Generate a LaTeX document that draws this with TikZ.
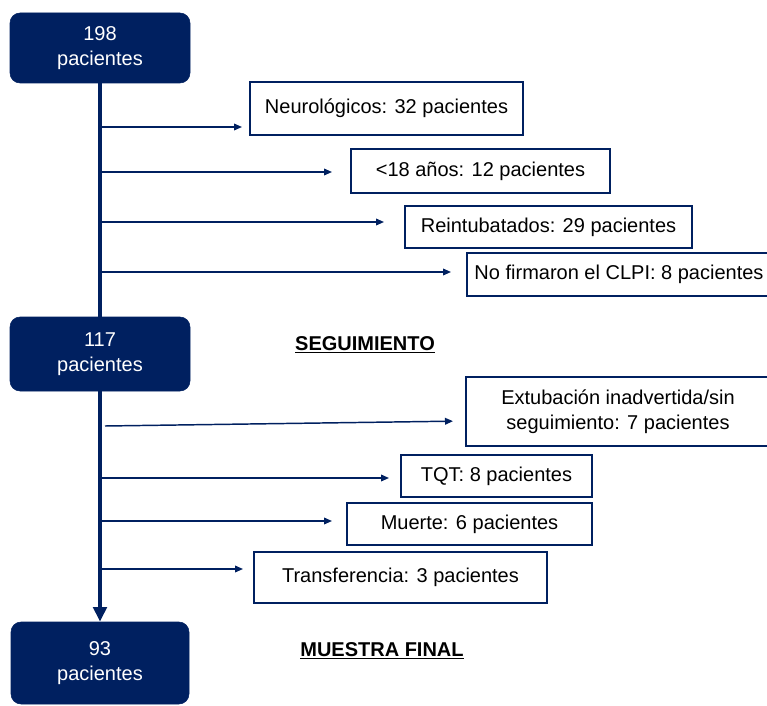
\documentclass[tikz,border=0pt]{standalone}
\usepackage{fontspec}
\setmainfont{Liberation Sans}
\usetikzlibrary{arrows.meta}
\definecolor{azul}{RGB}{0,32,96}

\begin{document}
\begin{tikzpicture}[x=0.75pt,y=0.75pt,yscale=-1,
  every node/.style={font=\fontsize{15}{19}\selectfont},
  caja/.style={fill=azul,draw=azul,rounded corners=7.5pt,text=white,align=center,inner sep=0pt,minimum width=135pt},
  motivo/.style={draw=azul,line width=1.5pt,fill=white,align=center,inner sep=0pt},
  flecha/.style={draw=azul,line width=1.1pt,-{Triangle[length=6pt,width=5pt]}},
  tronco/.style={draw=azul,line width=3.4pt},
  titulo/.style={font=\fontsize{15}{19}\selectfont\bfseries,inner sep=0pt}]
%uncomment if require: \path (0,706); %set diagram left start at 0, and has height of 706
\useasboundingbox (0,0) rectangle (767,706);

% Text Node
\node [caja, minimum height=52.5pt] (n198) at (100,48) {198\\pacientes};
% Text Node
\node [caja, minimum height=55.5pt] (n117) at (100,354) {117\\pacientes};
% Text Node
\node [caja, minimum height=61.5pt, minimum width=133.5pt] (n93) at (100,663) {93\\pacientes};

%Shape: Rectangle
\node [motivo, minimum width=204.75pt, minimum height=39.75pt] (neuro) at (386.5,108.5) {Neurológicos: 32 pacientes};
%Shape: Rectangle
\node [motivo, minimum width=194.25pt, minimum height=33pt] (menor) at (480.5,171) {<18 años: 12 pacientes};
%Shape: Rectangle
\node [motivo, minimum width=215.25pt, minimum height=31.5pt] (reint) at (548.5,227) {Reintubatados: 29 pacientes};
%Shape: Rectangle
\node [motivo, minimum width=228pt, minimum height=32.25pt] (firma) at (619,274.5) {No firmaron el CLPI: 8 pacientes};
%Shape: Rectangle
\node [motivo, minimum width=228pt, minimum height=51.75pt] (extu) at (618,411.5) {Extubación inadvertida/sin\\seguimiento: 7 pacientes};
%Shape: Rectangle
\node [motivo, minimum width=143.25pt, minimum height=31.5pt] (tqt) at (496.5,476) {TQT: 8 pacientes};
%Shape: Rectangle
\node [motivo, minimum width=183.75pt, minimum height=31.5pt] (muerte) at (469.5,524) {Muerte: 6 pacientes};
%Shape: Rectangle
\node [motivo, minimum width=219.75pt, minimum height=38.25pt] (transf) at (400.5,577.5) {Transferencia: 3 pacientes};

% Text Node
\node [titulo] (seg) at (365,345) {\underline{SEGUIMIENTO}};
% Text Node
\node [titulo] (final) at (382,651) {\underline{MUESTRA FINAL}};

%Straight Lines
\draw [tronco] (n198) -- (n117);
%Straight Lines
\draw [tronco, -{Triangle[length=11pt,width=10pt]}] (n117) -- (n93);

\coordinate (s1) at (100,127);
\coordinate (s2) at (100,172);
\coordinate (s3) at (100,222);
\coordinate (s4) at (100,272);
\coordinate (s5) at (105,426);
\coordinate (s6) at (100,478);
\coordinate (s7) at (100,521);
\coordinate (s8) at (100,569);

%Straight Lines
\draw [flecha, shorten >=5.25pt] (s1) -- (s1 -| neuro.west);
%Straight Lines
\draw [flecha, shorten >=13.5pt] (s2) -- (s2 -| menor.west);
%Straight Lines
\draw [flecha, shorten >=15pt] (s3) -- (s3 -| reint.west);
%Straight Lines
\draw [flecha, shorten >=11.25pt] (s4) -- (s4 -| firma.west);
%Straight Lines
\draw [flecha, shorten >=9pt] (s5) -- ([yshift=-3.75pt]s5 -| extu.west);
%Straight Lines
\draw [flecha, shorten >=8.25pt] (s6) -- (s6 -| tqt.west);
%Straight Lines
\draw [flecha, shorten >=10.5pt] (s7) -- (s7 -| muerte.west);
%Straight Lines
\draw [flecha, shorten >=7.5pt] (s8) -- (s8 -| transf.west);

\end{tikzpicture}
\end{document}
